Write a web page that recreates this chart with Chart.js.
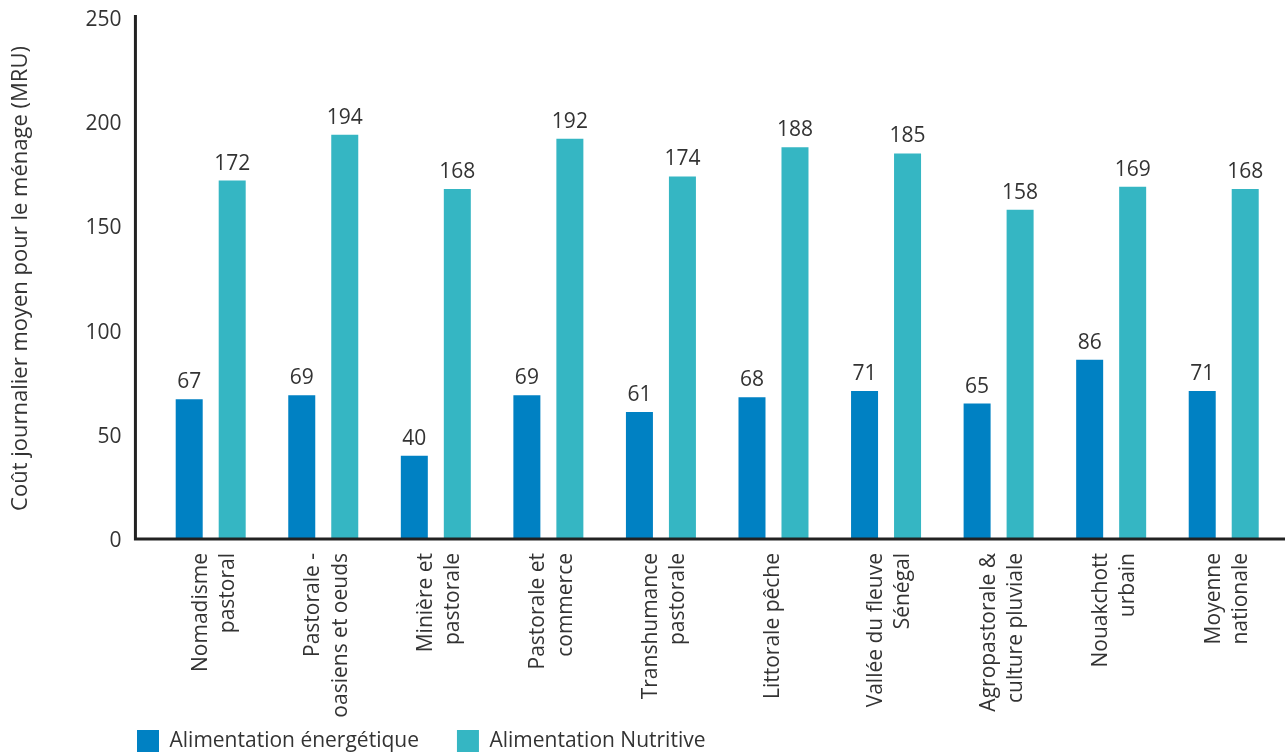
<!DOCTYPE html>
<html lang="fr">
<head>
<meta charset="utf-8">
<title>Coût journalier moyen pour le ménage</title>
<script src="https://cdn.jsdelivr.net/npm/chart.js@4.4.1/dist/chart.umd.min.js"></script>
<style>
  html, body { margin: 0; padding: 0; background: #ffffff; }
  #wrap { position: relative; width: 1285px; height: 753px; }
</style>
</head>
<body>
<div id="wrap"><canvas id="chart" width="1285" height="753"></canvas></div>
<script>
// Zones de moyens d'existence (libellés sur deux lignes)
const categories = [
  ['Nomadisme', 'pastoral'],
  ['Pastorale -', 'oasiens et oeuds'],
  ['Minière et', 'pastorale'],
  ['Pastorale et', 'commerce'],
  ['Transhumance', 'pastorale'],
  ['Littorale pêche'],
  ['Vallée du fleuve', 'Sénégal'],
  ['Agropastorale &', 'culture pluviale'],
  ['Nouakchott', 'urbain'],
  ['Moyenne', 'nationale']
];

// Coût journalier moyen (MRU)
const energetique = [67, 69, 40, 69, 61, 68, 71, 65, 86, 71];
const nutritive   = [172, 194, 168, 192, 174, 188, 185, 158, 169, 168];

const seriesNames = ['Alimentation énergétique', 'Alimentation Nutritive'];
const yTicks = [0, 50, 100, 150, 200, 250];
const yTitle = 'Coût journalier moyen pour le ménage (MRU)';

const FONT = "'Open Sans', 'Noto Sans', sans-serif";
const TEXT = '#333333';

// Axes dessinés en traits épais, décalés du bord de la zone de tracé
const axisLines = {
  id: 'axisLines',
  afterDatasetsDraw(chart) {
    const { ctx, chartArea, scales } = chart;
    const y0 = scales.y.getPixelForValue(0);
    const xAxis = chartArea.left - 19;
    ctx.save();
    ctx.strokeStyle = '#222222';
    ctx.lineWidth = 3;
    ctx.lineCap = 'butt';
    ctx.beginPath();
    ctx.moveTo(xAxis, chartArea.top - 3);
    ctx.lineTo(xAxis, y0);
    ctx.lineTo(chart.width, y0);
    ctx.stroke();
    ctx.restore();
  }
};

// Valeurs affichées au-dessus de chaque barre
const valueLabels = {
  id: 'valueLabels',
  afterDatasetsDraw(chart) {
    const { ctx } = chart;
    ctx.save();
    ctx.font = '21px ' + FONT;
    ctx.fillStyle = TEXT;
    ctx.textAlign = 'center';
    ctx.textBaseline = 'alphabetic';
    chart.data.datasets.forEach((ds, i) => {
      chart.getDatasetMeta(i).data.forEach((bar, j) => {
        ctx.fillText(String(ds.data[j]), bar.x, bar.y - 11);
      });
    });
    ctx.restore();
  }
};

// Légende alignée sous l'axe vertical ; libellés de l'axe X non rognés
const layoutTweaks = {
  id: 'layoutTweaks',
  afterLayout(chart) {
    const lg = chart.legend;
    if (lg) {
      lg.left += 91;
      lg.right += 91;
      lg.top += 9;
      lg.bottom += 9;
    }
    chart.scales.x.bottom = chart.height;
  }
};

// Libellés sur deux lignes centrés sur le groupe de barres
const centerLabels = {
  id: 'centerLabels',
  beforeDraw(chart) {
    const scale = chart.scales.x;
    const items = scale.getLabelItems(chart.chartArea);
    items.forEach((item) => {
      if (item._centred) return;
      item._centred = true;
      const lines = Array.isArray(item.label) ? item.label.length : 1;
      if (lines > 1) item.options.translation[0] -= 10;
    });
  }
};

new Chart(document.getElementById('chart'), {
  type: 'bar',
  data: {
    labels: categories,
    datasets: [
      {
        label: seriesNames[0],
        data: energetique,
        backgroundColor: '#0081C3',
        categoryPercentage: 0.764,
        barPercentage: 0.628
      },
      {
        label: seriesNames[1],
        data: nutritive,
        backgroundColor: '#35B6C3',
        categoryPercentage: 0.764,
        barPercentage: 0.628
      }
    ]
  },
  options: {
    responsive: false,
    animation: false,
    devicePixelRatio: 1,
    layout: { padding: { top: 18, left: 8, right: 5, bottom: 0 } },
    plugins: {
      legend: {
        position: 'bottom',
        align: 'start',
        labels: {
          boxWidth: 22,
          boxHeight: 22,
          padding: 38,
          color: TEXT,
          font: { family: FONT, size: 21 }
        }
      },
      tooltip: { enabled: false }
    },
    scales: {
      x: {
        offset: true,
        grid: { display: false, drawTicks: false },
        border: { display: false },
        ticks: {
          autoSkip: false,
          maxRotation: 90,
          minRotation: 90,
          padding: 14,
          color: TEXT,
          font: { family: FONT, size: 21, lineHeight: 1.3 }
        },
        afterFit(scale) {
          scale.height = 144;
          scale.paddingLeft = 0;
          scale.paddingRight = 0;
        }
      },
      y: {
        min: 0,
        max: 250,
        afterBuildTicks(scale) { scale.ticks = yTicks.map(v => ({ value: v })); },
        afterFit(scale) {
          scale.paddingTop = 10;
          scale.paddingBottom = 10;
        },
        grid: { display: false, drawTicks: false },
        border: { display: false },
        ticks: {
          padding: 33,
          labelOffset: 2,
          color: TEXT,
          font: { family: FONT, size: 21 }
        },
        title: {
          display: true,
          text: yTitle,
          color: TEXT,
          padding: { top: 0, bottom: 18 },
          font: { family: FONT, size: 22 }
        }
      }
    }
  },
  plugins: [axisLines, valueLabels, layoutTweaks, centerLabels]
});
</script>
</body>
</html>
